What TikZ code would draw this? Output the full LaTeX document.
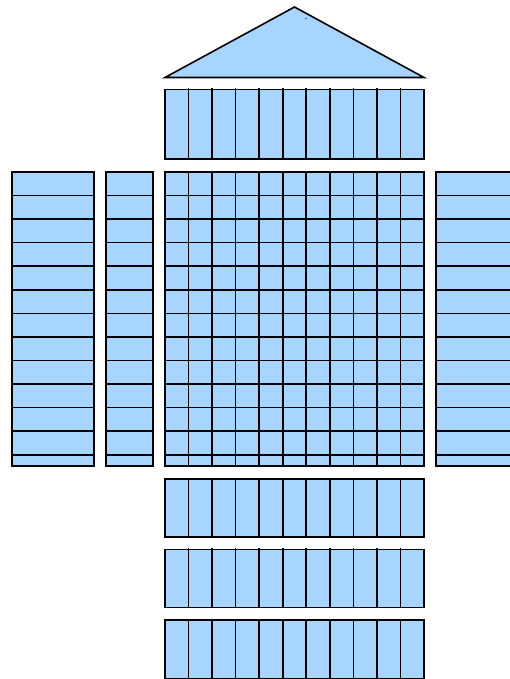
\documentclass[tikz,border=0pt]{standalone}
\definecolor{panel}{RGB}{168,213,255}
\begin{document}
\begin{tikzpicture}[x=1pt,y=-1pt,
  blk/.style={fill=panel,draw=black,line width=1.6pt},
  ln/.style={draw=black,line width=1.6pt}]
\useasboundingbox (0,0) rectangle (510,679);
\clip (0,0) rectangle (510,679);
% roof
\draw[blk,line join=miter] (165,77.5) -- (294.5,7) -- (424,77.5) -- cycle;
\fill[black] (306,18.5) circle (0.6);
% top strip
\draw[blk] (165,89.5) rectangle (424,159);
\foreach \k in {1,...,10} \draw[ln] ({165+23.545*\k},88.5) -- ({165+23.545*\k},159.5);
% main grid
\draw[blk] (165,172) rectangle (424,466);
\foreach \k in {1,...,10} \draw[ln] ({165+23.545*\k},171) -- ({165+23.545*\k},466.5);
\foreach \j in {1,...,12} \draw[ln] (164,{171.9+23.57*\j}) -- (425,{171.9+23.57*\j});
% side columns
\draw[blk] (12,172) rectangle (94,466);
\foreach \j in {1,...,12} \draw[ln] (11,{171.9+23.57*\j}) -- (95,{171.9+23.57*\j});
\draw[blk] (106,172) rectangle (153,466);
\foreach \j in {1,...,12} \draw[ln] (105,{171.9+23.57*\j}) -- (154,{171.9+23.57*\j});
\draw[blk] (436,172) rectangle (520,466);
\foreach \j in {1,...,12} \draw[ln] (435,{171.9+23.57*\j}) -- (520,{171.9+23.57*\j});
% lower strips
\foreach \a/\b in {479/536.7, 549.3/607.3, 620/678.3}{
  \draw[blk] (165,\a) rectangle (424,\b);
  \foreach \k in {1,...,10} \draw[ln] ({165+23.545*\k},\a-1) -- ({165+23.545*\k},\b+0.5);
}
\end{tikzpicture}
\end{document}
